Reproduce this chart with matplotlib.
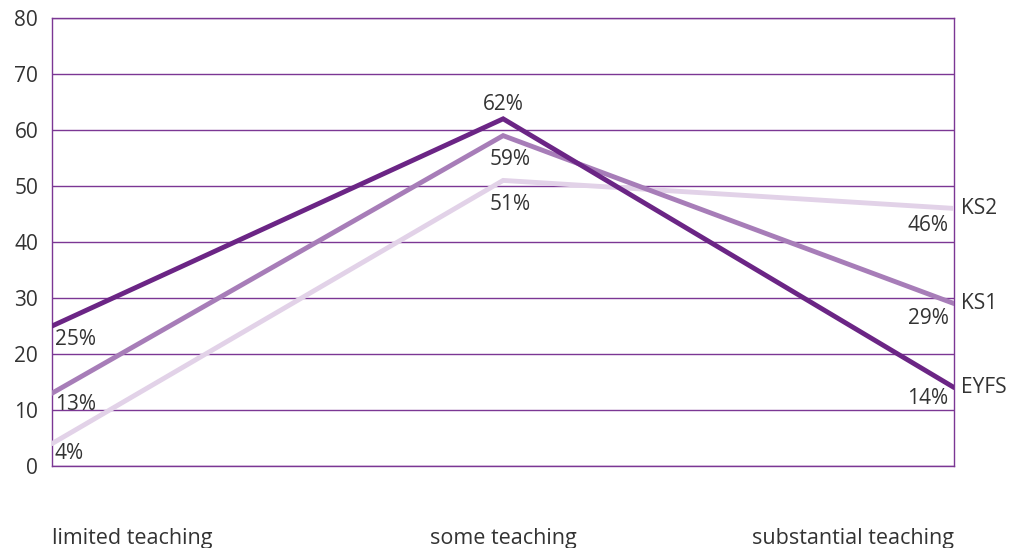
import matplotlib
matplotlib.use("Agg")
import matplotlib.pyplot as plt

plt.rcParams["font.family"] = ["Open Sans", "DejaVu Sans"]

# data
categories = ["limited teaching", "some teaching", "substantial teaching"]
series_names = ["KS2", "KS1", "EYFS"]
ks2 = [4, 51, 46]
ks1 = [13, 59, 29]
eyfs = [25, 62, 14]
y_ticks = [0, 10, 20, 30, 40, 50, 60, 70, 80]

GRID = "#7b3794"
TEXT = "#333333"
colors = {"KS2": "#e2d2e8", "KS1": "#a77db8", "EYFS": "#6b2585"}
values = {"KS2": ks2, "KS1": ks1, "EYFS": eyfs}

fig = plt.figure(figsize=(10.16, 5.48), dpi=100)
ax = fig.add_axes([0.0512, 0.1496, 0.888, 0.8175])

x = list(range(len(categories)))
for name in series_names:
    ax.plot(x, values[name], color=colors[name], lw=3.5,
            solid_capstyle="round", solid_joinstyle="miter", zorder=3)

ax.set_xlim(0, 2)
ax.set_ylim(0, 80)
ax.set_yticks(y_ticks)
ax.set_yticklabels([str(t) for t in y_ticks])
ax.yaxis.grid(True, color=GRID, lw=1.0)
ax.set_axisbelow(True)
ax.tick_params(axis="y", length=0, pad=10, labelsize=15, labelcolor=TEXT)
ax.tick_params(axis="x", length=0)
ax.set_xticks([])
for s in ax.spines.values():
    s.set_color(GRID)
    s.set_linewidth(1.0)

# x category labels below the axis
aligns = ["left", "center", "right"]
for xi, (cat, ha) in enumerate(zip(categories, aligns)):
    ax.annotate(cat, xy=(xi, 0), xycoords="data", xytext=(0, -52),
                textcoords="offset points", ha=ha, va="center",
                fontsize=15.5, color=TEXT, annotation_clip=False)

# data labels
fs = 15
left_off = {"KS2": -7, "KS1": -8, "EYFS": -10}
right_off = {"KS2": -12, "KS1": -11, "EYFS": -8}
for name in series_names:
    v = values[name]
    # left points: label below, left-aligned
    ax.annotate(f"{v[0]}%", xy=(0, v[0]), xytext=(2, left_off[name]), textcoords="offset points",
                ha="left", va="center", fontsize=fs, color=TEXT)
    # middle
    if name == "EYFS":
        ax.annotate(f"{v[1]}%", xy=(1, v[1]), xytext=(0, 10), textcoords="offset points",
                    ha="center", va="center", fontsize=fs, color=TEXT)
    else:
        ax.annotate(f"{v[1]}%", xy=(1, v[1]), xytext=(5, -17), textcoords="offset points",
                    ha="center", va="center", fontsize=fs, color=TEXT)
    # right points: label below, right-aligned
    ax.annotate(f"{v[2]}%", xy=(2, v[2]), xytext=(-4, right_off[name]), textcoords="offset points",
                ha="right", va="center", fontsize=fs, color=TEXT)
    # series name
    ax.annotate(name, xy=(2, v[2]), xytext=(5, 0), textcoords="offset points",
                ha="left", va="center", fontsize=15, color=TEXT, annotation_clip=False)

fig.savefig("out.png", dpi=100)
